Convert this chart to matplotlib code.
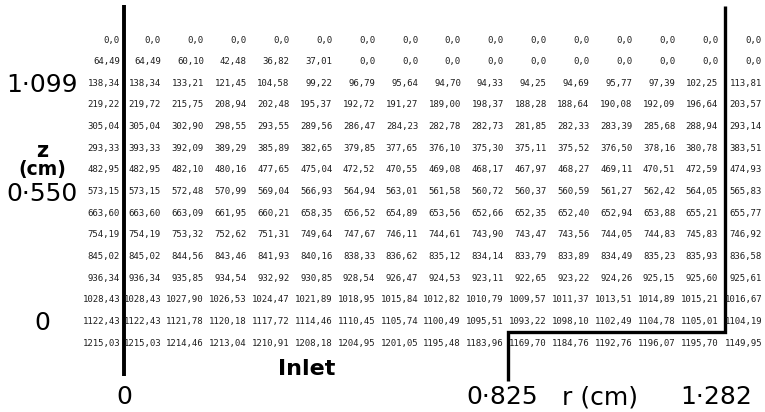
"""Tabulated temperature field over the (r, z) grid, redrawn from a scanned figure."""

import numpy as np
import matplotlib.pyplot as plt

# one list per z-level, top (z = 1.099 cm region) to bottom (inlet)
row_00 = [0.0] * 16
row_01 = [64.49, 64.49, 60.10, 42.48, 36.82, 37.01, 0.0, 0.0,
          0.0, 0.0, 0.0, 0.0, 0.0, 0.0, 0.0, 0.0]
row_02 = [138.34, 138.34, 133.21, 121.45, 104.58, 99.22, 96.79, 95.64,
          94.70, 94.33, 94.25, 94.69, 95.77, 97.39, 102.25, 113.81]
row_03 = [219.22, 219.72, 215.75, 208.94, 202.48, 195.37, 192.72, 191.27,
          189.00, 198.37, 188.28, 188.64, 190.08, 192.09, 196.64, 203.57]
row_04 = [305.04, 305.04, 302.90, 298.55, 293.55, 289.56, 286.47, 284.23,
          282.78, 282.73, 281.85, 282.33, 283.39, 285.68, 288.94, 293.14]
row_05 = [293.33, 393.33, 392.09, 389.29, 385.89, 382.65, 379.85, 377.65,
          376.10, 375.30, 375.11, 375.52, 376.50, 378.16, 380.78, 383.51]
row_06 = [482.95, 482.95, 482.10, 480.16, 477.65, 475.04, 472.52, 470.55,
          469.08, 468.17, 467.97, 468.27, 469.11, 470.51, 472.59, 474.93]
row_07 = [573.15, 573.15, 572.48, 570.99, 569.04, 566.93, 564.94, 563.01,
          561.58, 560.72, 560.37, 560.59, 561.27, 562.42, 564.05, 565.83]
row_08 = [663.60, 663.60, 663.09, 661.95, 660.21, 658.35, 656.52, 654.89,
          653.56, 652.66, 652.35, 652.40, 652.94, 653.88, 655.21, 655.77]
row_09 = [754.19, 754.19, 753.32, 752.62, 751.31, 749.64, 747.67, 746.11,
          744.61, 743.90, 743.47, 743.56, 744.05, 744.83, 745.83, 746.92]
row_10 = [845.02, 845.02, 844.56, 843.46, 841.93, 840.16, 838.33, 836.62,
          835.12, 834.14, 833.79, 833.89, 834.49, 835.23, 835.93, 836.58]
row_11 = [936.34, 936.34, 935.85, 934.54, 932.92, 930.85, 928.54, 926.47,
          924.53, 923.11, 922.65, 923.22, 924.26, 925.15, 925.60, 925.61]
row_12 = [1028.43, 1028.43, 1027.90, 1026.53, 1024.47, 1021.89, 1018.95, 1015.84,
          1012.82, 1010.79, 1009.57, 1011.37, 1013.51, 1014.89, 1015.21, 1016.67]
row_13 = [1122.43, 1122.43, 1121.78, 1120.18, 1117.72, 1114.46, 1110.45, 1105.74,
          1100.49, 1095.51, 1093.22, 1098.10, 1102.49, 1104.78, 1105.01, 1104.19]
row_14 = [1215.03, 1215.03, 1214.46, 1213.04, 1210.91, 1208.18, 1204.95, 1201.05,
          1195.48, 1183.96, 1169.70, 1184.76, 1192.76, 1196.07, 1195.70, 1149.95]

ROWS = [row_00, row_01, row_02, row_03, row_04, row_05, row_06, row_07,
        row_08, row_09, row_10, row_11, row_12, row_13, row_14]

z_labels = ["1·099", "0·550", "0"]
z_label_rows = [2, 7, 13]
r_labels = ["0", "0·825", "1·282"]


def fmt(v):
    if v == 0:
        return "0,0"
    return f"{v:.2f}".replace(".", ",")


# layout in pixel space (figure is 765 x 412)
W, H = 765, 412
col_right = np.concatenate([[120], 161 + 42.85 * np.arange(14), [762]])
row_y = 40 + 21.65 * np.arange(len(ROWS))

fig = plt.figure(figsize=(W / 100, H / 100), dpi=100)
ax = fig.add_axes([0, 0, 1, 1])
ax.set_xlim(0, W)
ax.set_ylim(H, 0)
ax.axis("off")

for k, row in enumerate(ROWS):
    for i, v in enumerate(row):
        ax.text(col_right[i], row_y[k], fmt(v), ha="right", va="center",
                family="DejaVu Sans Mono", fontsize=6.5, color="#1e1e1e")

# boundary lines: axis on the left, wall / inlet boundary on the right
ax.plot([124, 124], [5, 376], color="black", lw=2.8, solid_capstyle="butt")
ax.plot([725, 725, 508, 508], [6, 332, 332, 381], color="black", lw=2.4,
        solid_joinstyle="miter", solid_capstyle="butt")

lab = dict(family="DejaVu Sans", fontsize=18, color="black", ha="center",
           va="baseline")
# z-axis values sit a little below the row they label
for txt, k in zip(z_labels, z_label_rows):
    ax.text(42, row_y[k] + 9, txt, **lab)
ax.text(42, 157, "z", fontweight="bold", **{**lab, "fontsize": 15})
ax.text(42, 175, "(cm)", fontweight="bold", **{**lab, "fontsize": 13.5})

ax.text(307, 375, "Inlet", fontweight="bold", **{**lab, "fontsize": 16})
for txt, x in zip(r_labels, [124, 502, 716]):
    ax.text(x, 404, txt, **lab)
ax.text(600, 404, "r (cm)", **lab)

fig.savefig("out.png", dpi=100)
